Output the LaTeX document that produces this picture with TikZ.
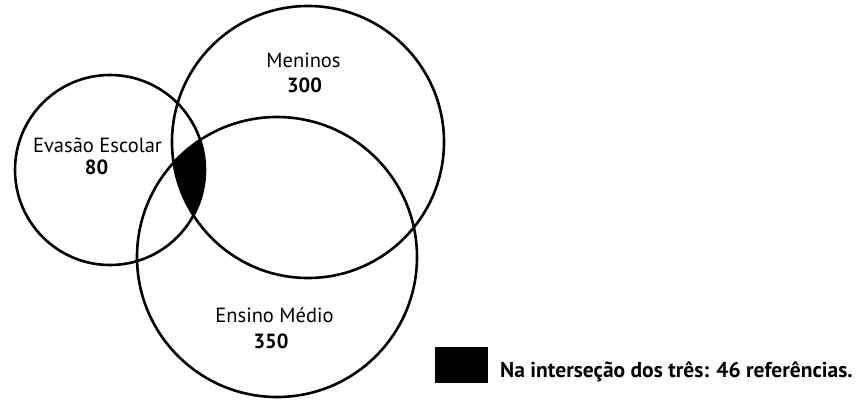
\documentclass[tikz,border=0pt]{standalone}
\usepackage{fontspec}
\setmainfont{PT Sans}
\begin{document}
\begin{tikzpicture}[x=1pt,y=-1pt,
  venn/.style={circle,draw=black,line width=2.6pt,inner sep=0pt},
  lbl/.style={font=\fontsize{20.5}{24}\selectfont,inner sep=0pt,anchor=base},
  num/.style={lbl,font=\fontsize{20.5}{24}\selectfont\bfseries}]
\useasboundingbox (0,0) rectangle (861,399);
\begin{scope}
  \clip (110,170) circle (95);
  \clip (308,142) circle (136);
  \fill[black] (277,257) circle (140);
\end{scope}
\node[venn,minimum size=190pt] (eva) at (110,170) {};
\node[venn,minimum size=272pt] (men) at (308,142) {};
\node[venn,minimum size=280pt] (ens) at (277,257) {};
\node[lbl] (evat) at (97.5,152) {Evasão Escolar};
\node[num] (evan) at (96.5,174) {80};
\node[lbl] (ment) at (303.5,67) {Meninos};
\node[num] (menn) at (304.5,92) {300};
\node[lbl] (enst) at (274.5,322) {Ensino Médio};
\node[num] (ensn) at (271,348) {350};
\fill[black] (435,347) rectangle (488,383) coordinate (sq);
\node[num,font=\fontsize{21.5}{24}\selectfont\bfseries,anchor=base west] (leg) at (500,377) {Na interseção dos três: 46 referências.};
\end{tikzpicture}
\end{document}
